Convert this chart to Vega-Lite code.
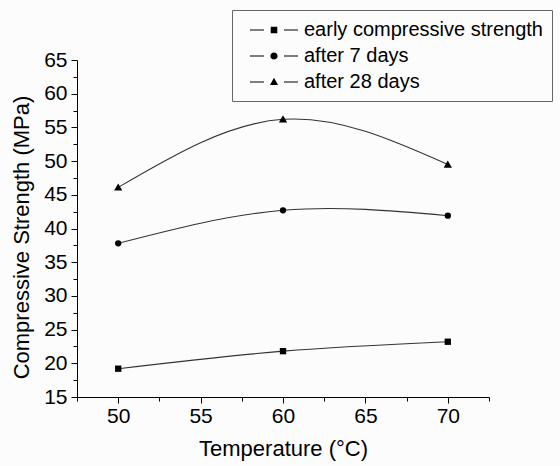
{
  "$schema": "https://vega.github.io/schema/vega-lite/v6.json",
  "width": 412,
  "height": 337,
  "autosize": {"type": "none"},
  "padding": {"left": 77, "top": 60, "right": 71, "bottom": 69},
  "background": "#fcfcfc",
  "config": {
    "view": {"stroke": null},
    "font": "Liberation Sans",
    "axis": {
      "grid": false,
      "domainColor": "#000",
      "domainWidth": 1,
      "tickColor": "#000",
      "tickWidth": 1,
      "labelColor": "#000",
      "labelFont": "Liberation Sans",
      "labelFontSize": 21,
      "titleFont": "Liberation Sans",
      "titleFontSize": 22,
      "titleFontWeight": "normal",
      "titleColor": "#000"
    }
  },
  "data": {
    "values": [
      {"series": "early compressive strength", "temperature": 50, "strength": 19.2},
      {"series": "early compressive strength", "temperature": 60, "strength": 21.8},
      {"series": "early compressive strength", "temperature": 70, "strength": 23.2},
      {"series": "after 7 days", "temperature": 50, "strength": 37.8},
      {"series": "after 7 days", "temperature": 60, "strength": 42.7},
      {"series": "after 7 days", "temperature": 70, "strength": 41.9},
      {"series": "after 28 days", "temperature": 50, "strength": 46.1},
      {"series": "after 28 days", "temperature": 60, "strength": 56.2},
      {"series": "after 28 days", "temperature": 70, "strength": 49.5}
    ]
  },
  "encoding": {
    "x": {
      "field": "temperature",
      "type": "quantitative",
      "scale": {"domain": [47.5, 72.5], "nice": false, "zero": false},
      "axis": {
        "title": "Temperature (°C)",
        "values": [47.5, 50, 52.5, 55, 57.5, 60, 62.5, 65, 67.5, 70, 72.5],
        "labelExpr": "datum.value % 5 === 0 ? datum.label : ''",
        "format": "d",
        "tickSize": {"condition": {"test": "datum.value % 5 === 0", "value": 6}, "value": 4},
        "labelPadding": 2,
        "labelFlush": false,
        "titlePadding": 12
      }
    },
    "y": {
      "field": "strength",
      "type": "quantitative",
      "scale": {"domain": [15, 65], "nice": false, "zero": false},
      "axis": {
        "title": "Compressive Strength (MPa)",
        "values": [15, 17.5, 20, 22.5, 25, 27.5, 30, 32.5, 35, 37.5, 40, 42.5, 45, 47.5, 50, 52.5, 55, 57.5, 60, 62.5, 65],
        "labelExpr": "datum.value % 5 === 0 ? datum.label : ''",
        "format": "d",
        "tickSize": {"condition": {"test": "datum.value % 5 === 0", "value": 6}, "value": 4},
        "labelPadding": 4,
        "labelFlush": false,
        "titlePadding": 10,
        "titleY": 177
      }
    }
  },
  "layer": [
    {
      "mark": {"type": "line", "interpolate": "natural", "color": "#333", "strokeWidth": 1.1},
      "encoding": {"detail": {"field": "series", "type": "nominal"}}
    },
    {
      "mark": {"type": "point", "filled": true, "opacity": 1, "color": "#000", "size": 40},
      "encoding": {
        "shape": {
          "field": "series",
          "type": "nominal",
          "scale": {
            "domain": ["early compressive strength", "after 7 days", "after 28 days"],
            "range": ["square", "circle", "M0,-1.25L1.3,1L-1.3,1Z"]
          },
          "legend": null
        }
      }
    },
    {
      "description": "legend key: line stub, marker, line stub",
      "mark": {"type": "point", "filled": true, "opacity": 0, "color": "#000"},
      "encoding": {
        "shape": {
          "field": "series",
          "type": "nominal",
          "scale": {
            "domain": ["early compressive strength", "after 7 days", "after 28 days"],
            "range": [
              "M-2.4,-0.05H-1V0.05H-2.4ZM1,-0.05H2.4V0.05H1ZM-0.33,-0.33H0.33V0.33H-0.33Z",
              "M-2.4,-0.05H-1V0.05H-2.4ZM1,-0.05H2.4V0.05H1ZM0.36,0A0.36,0.36,0,1,1,-0.36,0A0.36,0.36,0,1,1,0.36,0Z",
              "M-2.4,-0.05H-1V0.05H-2.4ZM1,-0.05H2.4V0.05H1ZM0,-0.42L0.4,0.3L-0.4,0.3Z"
            ]
          },
          "legend": {
            "title": null,
            "orient": "none",
            "legendX": 155,
            "legendY": -50,
            "fillColor": "#fcfcfc",
            "strokeColor": "#666",
            "padding": 9,
            "rowPadding": 5,
            "symbolSize": 400,
            "symbolOffset": 22,
            "symbolOpacity": 1,
            "symbolFillColor": "#000",
            "labelOffset": 19,
            "labelFont": "Liberation Sans",
            "labelFontSize": 20,
            "labelColor": "#000",
            "labelLimit": 400
          }
        }
      }
    }
  ],
  "resolve": {"scale": {"shape": "independent"}, "legend": {"shape": "independent"}}
}
